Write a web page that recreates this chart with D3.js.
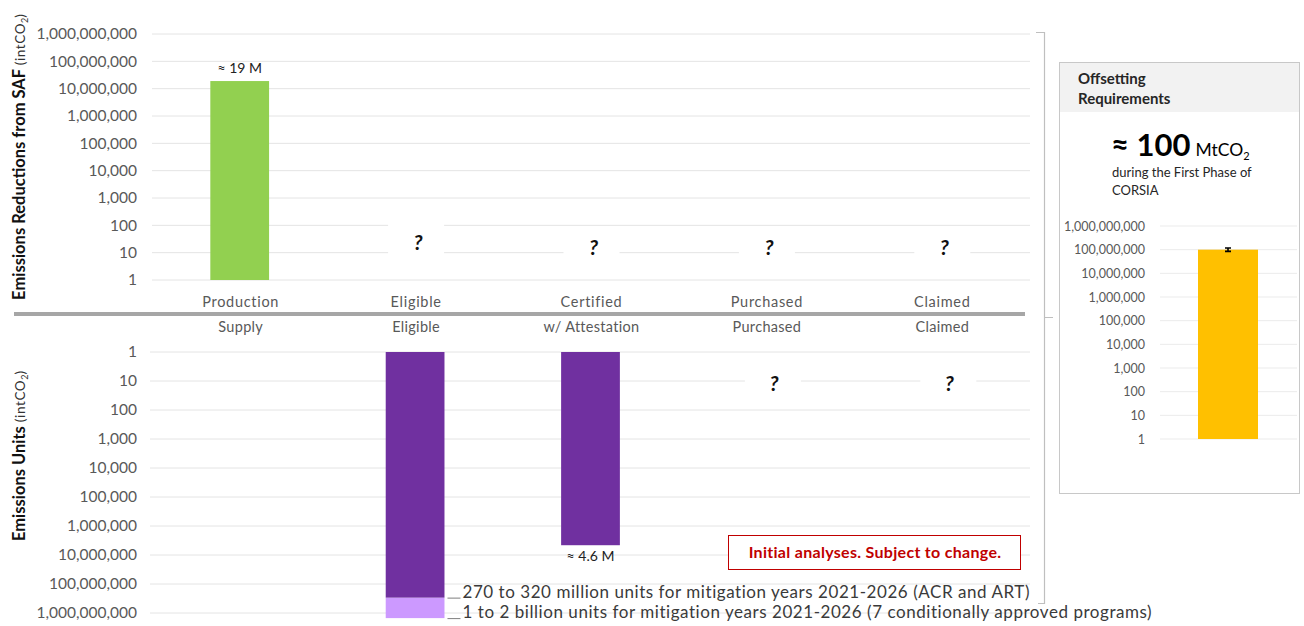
<!DOCTYPE html>
<html>
<head>
<meta charset="utf-8">
<script src="https://cdn.jsdelivr.net/npm/d3@7"></script>
<style>
  html, body { margin: 0; padding: 0; background: #fff; }
  svg { display: block; font-family: Lato, "Open Sans", sans-serif; }
</style>
</head>
<body>
<svg id="chart" width="1304" height="626"></svg>
<script>
// Supply-chain stages for SAF (top) and emissions units (bottom)
const safStages = ["Production", "Eligible", "Certified", "Purchased", "Claimed"];
const unitStages = ["Supply", "Eligible", "w/ Attestation", "Purchased", "Claimed"];

// Emissions reductions from SAF (tCO2); null = unknown
const safValues = [19e6, null, null, null, null];
const safLabels = ["≈ 19 M", "?", "?", "?", "?"];

// Emissions units (tCO2); eligible split into ACR/ART and conditionally approved programmes
const unitValues = [null, 2.95e8, 4.6e6, null, null];
const unitExtra = [null, 1.5e9, null, null, null];
const unitLabels = [null, null, "≈ 4.6 M", "?", "?"];
const eligibleNotes = [
  "270 to 320 million units for mitigation years 2021-2026 (ACR and ART)",
  "1 to 2 billion units for mitigation years 2021-2026 (7 conditionally approved programs)"
];

// CORSIA first-phase offsetting requirement (tCO2) with its range
const offsetValue = [100e6];
const offsetRange = [[85e6, 118e6]];

// Log axis ticks
const logTicks = [1, 10, 100, 1e3, 1e4, 1e5, 1e6, 1e7, 1e8, 1e9];

const svg = d3.select("#chart");
const fmt = d3.format(",");
const gridColor = "#E4E4E4";
const tickColor = "#595959";

const x = d3.scaleBand().domain(d3.range(safStages.length)).range([153, 1030]);
const barW = x.bandwidth() * 0.335;
const cx = i => x(i) + x.bandwidth() / 2;

const yTop = d3.scaleLog().domain([1, 1e9]).range([280, 34]);
const yBot = d3.scaleLog().domain([1, 1e9]).range([352, 613]);

function logAxis(g, scale, ax, gx0, gx1) {
  g.selectAll("line.grid").data(logTicks).join("line")
    .attr("class", "grid")
    .attr("x1", gx0).attr("x2", gx1)
    .attr("y1", d => scale(d)).attr("y2", d => scale(d))
    .attr("stroke", gridColor).attr("stroke-width", 1);
  const axis = d3.axisLeft(scale).tickValues(logTicks).tickFormat(fmt).tickSize(0).tickPadding(0);
  const a = g.append("g").attr("transform", `translate(${ax},0)`).call(axis);
  a.select(".domain").remove();
  a.selectAll("text").attr("fill", tickColor).style("font-size", "15.5px").style("font-family", "Lato, sans-serif");
  return a;
}

// ---------- Top panel: emissions reductions from SAF ----------
const upper = svg.append("g");
logAxis(upper, yTop, 137, 152, 1030);

upper.selectAll("rect.saf").data(safValues.map((v, i) => ({ v, i })).filter(d => d.v)).join("rect")
  .attr("class", "saf")
  .attr("x", d => cx(d.i) - barW / 2 - 1)
  .attr("width", barW)
  .attr("y", d => yTop(d.v))
  .attr("height", d => yTop(1) - yTop(d.v))
  .attr("fill", "#92D050");

safLabels.forEach((t, i) => {
  if (t === "?") {
    const yy = yTop(15) - (i === 1 ? 5 : 0);
    upper.append("rect").attr("x", cx(i) - 28).attr("y", yy - 20).attr("width", 56).attr("height", 38).attr("fill", "#fff");
    upper.append("text").attr("x", cx(i) + 2).attr("y", yy).attr("dy", "0.35em")
      .attr("text-anchor", "middle").style("font-size", "21px").style("font-weight", "bold").style("font-style", "italic")
      .attr("fill", "#111").text("?");
  } else {
    upper.append("text").attr("x", cx(i) - 1).attr("y", yTop(safValues[i]) - 13)
      .attr("dy", "0.35em").attr("text-anchor", "middle").style("font-size", "14px").attr("fill", "#222").text(t);
  }
});

upper.selectAll("text.cat").data(safStages).join("text")
  .attr("class", "cat").attr("x", (d, i) => cx(i)).attr("y", 302).attr("dy", "0.35em")
  .attr("text-anchor", "middle").style("font-size", "14.5px").style("letter-spacing", "0.7px")
  .attr("fill", tickColor).text(d => d);

// Separator between the two panels
svg.append("line").attr("x1", 14).attr("x2", 1025).attr("y1", 314).attr("y2", 314)
  .attr("stroke", "#A6A6A6").attr("stroke-width", 4);

// ---------- Bottom panel: emissions units ----------
const lower = svg.append("g");
lower.selectAll("text.cat").data(unitStages).join("text")
  .attr("class", "cat").attr("x", (d, i) => cx(i)).attr("y", 327).attr("dy", "0.35em")
  .attr("text-anchor", "middle").style("font-size", "14.5px").style("letter-spacing", "0.3px")
  .attr("fill", tickColor).text(d => d);

logAxis(lower, yBot, 137, 150, 1030);

lower.selectAll("rect.extra").data(unitExtra.map((v, i) => ({ v, i })).filter(d => d.v)).join("rect")
  .attr("class", "extra")
  .attr("x", d => cx(d.i) - barW / 2 - 1)
  .attr("width", barW)
  .attr("y", d => yBot(unitValues[d.i]))
  .attr("height", d => yBot(d.v) - yBot(unitValues[d.i]))
  .attr("fill", "#CC99FF");

lower.selectAll("rect.unit").data(unitValues.map((v, i) => ({ v, i })).filter(d => d.v)).join("rect")
  .attr("class", "unit")
  .attr("x", d => cx(d.i) - barW / 2 - 1)
  .attr("width", barW)
  .attr("y", yBot(1))
  .attr("height", d => yBot(d.v) - yBot(1))
  .attr("fill", "#7030A0");

unitLabels.forEach((t, i) => {
  if (t === "?") {
    const yy = yBot(12);
    lower.append("rect").attr("x", cx(i) - 22).attr("y", yy - 19).attr("width", 56).attr("height", 36).attr("fill", "#fff");
    lower.append("text").attr("x", cx(i) + 7).attr("y", yy).attr("dy", "0.35em")
      .attr("text-anchor", "middle").style("font-size", "21px").style("font-weight", "bold").style("font-style", "italic")
      .attr("fill", "#111").text("?");
  } else if (t) {
    lower.append("text").attr("x", cx(i) - 1).attr("y", yBot(unitValues[i]) + 11)
      .attr("dy", "0.35em").attr("text-anchor", "middle").style("font-size", "14px").attr("fill", "#222").text(t);
  }
});

// Notes for the eligible bar
const eligibleIdx = 1;
const noteY = [yBot(unitValues[eligibleIdx]), yBot(unitExtra[eligibleIdx])];
const noteX = cx(eligibleIdx) + barW / 2;
eligibleNotes.forEach((t, k) => {
  lower.append("line").attr("x1", noteX + 2).attr("x2", noteX + 15).attr("y1", noteY[k] + 0.5).attr("y2", noteY[k] + 0.5)
    .attr("stroke", "#7F7F7F").attr("stroke-width", 1);
  lower.append("text").attr("x", noteX + 17).attr("y", noteY[k]).style("font-size", "17px").style("letter-spacing", "0.55px")
    .attr("fill", "#3A3A3A").text(t);
});

// Disclaimer box
svg.append("rect").attr("x", 728.5).attr("y", 535.5).attr("width", 292).attr("height", 34)
  .attr("fill", "#fff").attr("stroke", "#C00000").attr("stroke-width", 1);
svg.append("text").attr("x", 875).attr("y", 552).attr("dy", "0.35em").attr("text-anchor", "middle")
  .style("font-size", "16px").style("font-weight", "bold").style("letter-spacing", "0.3px").attr("fill", "#C00000")
  .text("Initial analyses. Subject to change.");

// Axis titles
function axisTitle(cxPos, cyPos, bold) {
  const t = svg.append("text").attr("transform", `translate(${cxPos},${cyPos}) rotate(-90)`)
    .attr("text-anchor", "middle").attr("fill", "#111");
  t.append("tspan").style("font-size", "16.5px").style("font-weight", "bold").text(bold + " ");
  t.append("tspan").style("font-size", "13.5px").attr("fill", "#333").style("letter-spacing", "0.6px").text("(intCO");
  t.append("tspan").style("font-size", "9px").attr("fill", "#333").attr("dy", 3).text("2");
  t.append("tspan").style("font-size", "13.5px").attr("fill", "#333").attr("dy", -3).text(")");
}
axisTitle(25, 157, "Emissions Reductions from SAF");
axisTitle(25, 456, "Emissions Units");

// Bracket linking both panels to the requirement box
svg.append("path").attr("d", "M1036,32.5 H1044.5 V603.5 H1038 M1044.5,317.5 H1053")
  .attr("fill", "none").attr("stroke", "#BFBFBF").attr("stroke-width", 1.2);

// ---------- Offsetting requirements panel ----------
const box = svg.append("g");
box.append("rect").attr("x", 1059.5).attr("y", 62.5).attr("width", 240).attr("height", 431)
  .attr("fill", "#fff").attr("stroke", "#C8C8C8");
box.append("rect").attr("x", 1060).attr("y", 63).attr("width", 239).attr("height", 49).attr("fill", "#F2F2F2");
box.append("text").attr("x", 1078).attr("y", 84).style("font-size", "15px").style("font-weight", "bold")
  .attr("fill", "#262626").text("Offsetting");
box.append("text").attr("x", 1078).attr("y", 104).style("font-size", "15px").style("font-weight", "bold")
  .attr("fill", "#262626").text("Requirements");

const big = box.append("text").attr("x", 1111).attr("y", 156).attr("fill", "#000");
big.append("tspan").style("font-size", "31px").style("font-weight", "bold").text("≈ " + d3.format(".0f")(offsetValue[0] / 1e6));
big.append("tspan").style("font-size", "17.5px").attr("dx", 5).text("MtCO");
big.append("tspan").style("font-size", "11px").attr("dy", 4).text("2");
box.append("text").attr("x", 1112).attr("y", 177).style("font-size", "13px").attr("fill", "#262626")
  .text("during the First Phase of");
box.append("text").attr("x", 1112).attr("y", 195).style("font-size", "13px").attr("fill", "#262626")
  .text("CORSIA");

const yMini = d3.scaleLog().domain([1, 1e9]).range([439, 226]);
const mini = box.append("g");
mini.selectAll("line.grid").data(logTicks).join("line")
  .attr("x1", 1160).attr("x2", 1297)
  .attr("y1", d => yMini(d)).attr("y2", d => yMini(d))
  .attr("stroke", "#EBEBEB");
const ma = mini.append("g").attr("transform", "translate(1145,0)")
  .call(d3.axisLeft(yMini).tickValues(logTicks).tickFormat(fmt).tickSize(0).tickPadding(0));
ma.select(".domain").remove();
ma.selectAll("text").attr("fill", tickColor).style("font-size", "12.5px").style("font-family", "Lato, sans-serif");

const miniX = 1228;
mini.selectAll("rect.req").data(offsetValue).join("rect")
  .attr("x", miniX - 30).attr("width", 60)
  .attr("y", d => yMini(d)).attr("height", d => yMini(1) - yMini(d))
  .attr("fill", "#FFC000");
offsetRange.forEach(r => {
  mini.append("path")
    .attr("d", `M${miniX - 3},${yMini(r[0])} H${miniX + 3} M${miniX},${yMini(r[0])} V${yMini(r[1])} M${miniX - 3},${yMini(r[1])} H${miniX + 3}`)
    .attr("stroke", "#000").attr("stroke-width", 1.6).attr("fill", "none");
});
</script>
</body>
</html>
